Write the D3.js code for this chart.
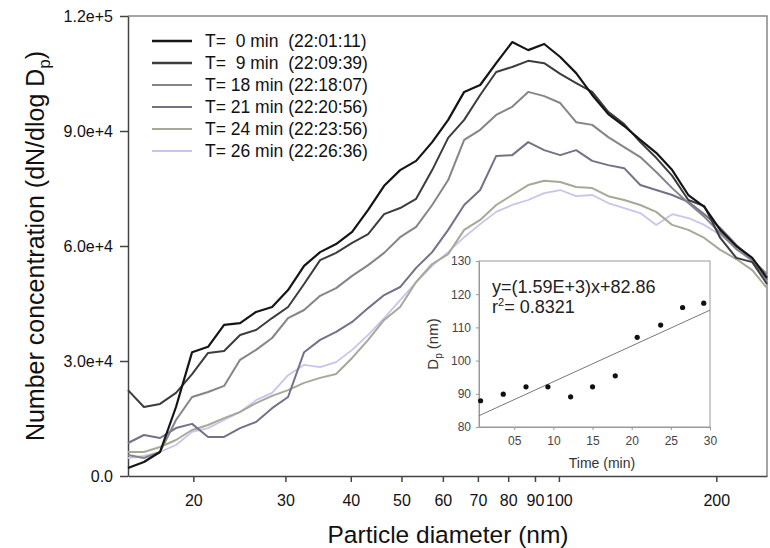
<!DOCTYPE html>
<meta charset="utf-8">
<style>

body {
  margin: 0;
  background: #fff;
}

svg {
  font-family: "Liberation Sans", Arial, sans-serif;
}

.main-axis text {
  font-size: 16px;
  fill: #111;
}

.main-axis path,
.main-axis line {
  stroke: #444;
  stroke-width: 1.5px;
}

.inset-axis text {
  font-size: 12px;
  fill: #444;
}

.inset-axis path,
.inset-axis line {
  stroke: #999;
}

.legend text {
  font-size: 17.5px;
  fill: #111;
  white-space: pre;
}

</style>
<svg id="chart" width="770" height="548"></svg>
<script src="https://cdn.jsdelivr.net/npm/d3@7"></script>
<script>

// particle diameters (nm), one per size bin
const diameters = [15.0, 16.09, 17.27, 18.53, 19.89, 21.34, 22.9, 24.57, 26.36, 28.29,
  30.35, 32.57, 34.95, 37.5, 40.24, 43.18, 46.33, 49.71, 53.34, 57.24,
  61.42, 65.9, 70.71, 75.88, 81.42, 87.36, 93.74, 100.6, 107.9, 115.8,
  124.3, 133.3, 143.1, 153.5, 164.7, 176.8, 189.7, 203.5, 218.4, 234.3, 250];

// dN/dlog Dp, in thousands
const t0 = [2.09, 3.65, 6.26, 18.0, 32.3, 33.7, 39.4, 39.9, 42.8, 44.1,
  48.5, 54.8, 58.4, 60.5, 63.7, 69.4, 75.7, 79.8, 82.2, 87.1,
  92.9, 100.2, 102.0, 107.7, 113.2, 111.1, 112.7, 109.3, 105.1, 99.4,
  94.4, 91.3, 87.7, 84.3, 79.8, 73.3, 70.2, 64.2, 60.0, 56.9, 51.7];

const t9 = [22.4, 18.0, 18.8, 21.7, 26.6, 32.1, 32.6, 36.8, 38.1, 41.2,
  44.1, 50.1, 56.3, 58.2, 60.8, 63.1, 68.3, 69.9, 72.3, 79.8,
  88.2, 92.9, 99.4, 105.4, 106.7, 108.3, 107.7, 104.9, 102.5, 100.2,
  95.0, 91.8, 87.1, 83.0, 78.3, 72.0, 70.4, 62.1, 56.9, 55.8, 50.1];

const t18 = [5.48, 4.70, 6.26, 14.6, 20.6, 21.9, 23.5, 30.3, 32.9, 36.0,
  41.2, 43.3, 47.0, 49.0, 52.2, 55.0, 58.2, 62.3, 65.0, 70.7,
  77.2, 87.7, 90.3, 94.2, 96.3, 100.2, 99.1, 97.3, 92.3, 91.6,
  88.4, 85.8, 83.2, 79.3, 75.1, 71.2, 67.6, 63.4, 59.2, 56.3, 52.7];

const t21 = [8.61, 10.7, 9.91, 12.5, 13.6, 10.2, 10.2, 12.5, 14.1, 17.7,
  20.6, 32.3, 35.5, 37.6, 40.2, 43.8, 47.2, 49.3, 54.3, 58.4,
  64.2, 70.7, 74.6, 83.5, 83.7, 87.1, 85.0, 83.7, 85.0, 82.2,
  81.1, 80.3, 75.9, 74.6, 73.3, 71.5, 68.3, 64.7, 60.3, 56.3, 51.1];

const t24 = [6.26, 6.26, 7.57, 9.39, 12.0, 13.3, 15.1, 16.7, 19.0, 20.9,
  22.4, 24.3, 25.6, 26.6, 30.8, 35.5, 40.7, 44.1, 50.6, 55.3,
  57.9, 64.2, 66.8, 70.7, 73.3, 75.9, 77.0, 76.7, 75.4, 75.1,
  73.0, 72.0, 70.7, 68.9, 65.5, 64.2, 62.1, 59.0, 56.6, 53.7, 49.0];

const t26 = [4.70, 5.22, 6.26, 8.09, 11.5, 12.5, 14.6, 16.7, 19.8, 21.7,
  26.3, 29.0, 28.4, 29.7, 32.9, 36.8, 41.2, 45.9, 50.6, 54.8,
  58.4, 62.3, 65.7, 68.9, 70.7, 72.0, 73.8, 74.6, 73.0, 73.3,
  71.2, 69.9, 68.6, 65.5, 68.3, 67.3, 65.5, 62.9, 59.5, 55.8, 51.9];

const seriesLabels = ["T=  0 min  (22:01:11)", "T=  9 min  (22:09:39)", "T= 18 min (22:18:07)",
  "T= 21 min (22:20:56)", "T= 24 min (22:23:56)", "T= 26 min (22:26:36)"];
const seriesValues = [t0, t9, t18, t21, t24, t26];
const seriesColors = ["#151515", "#3c3c3c", "#84848c", "#727288", "#a6a898", "#c6c6ec"];
const seriesWidths = [2.2, 2, 2, 2, 2, 1.8];

const yTicks = [0, 30000, 60000, 90000, 120000];
const yTickLabels = ["0.0", "3.0e+4", "6.0e+4", "9.0e+4", "1.2e+5"];
const xTicks = [20, 30, 40, 50, 60, 70, 80, 90, 100, 200];

// inset: mode diameter vs time
const insetTime = [0.7, 3.6, 6.5, 9.3, 12.2, 15.0, 17.9, 20.7, 23.7, 26.5, 29.2];
const insetDp = [87.9, 89.9, 92.1, 92.1, 89.1, 92.1, 95.4, 107.0, 110.7, 116.0, 117.3];
const fitTime = [0.5, 30];
const fitDp = [83.4, 115.2];
const insetYTicks = [80, 90, 100, 110, 120, 130];
const insetXTicks = [5, 10, 15, 20, 25, 30];

let svg = d3.select("#chart");

let mLeft = 128, mRight = 767, mTop = 16, mBottom = 476;

let x = d3.scaleLog()
    .domain([15, 250])
    .range([mLeft, mRight]);

let y = d3.scaleLinear()
    .domain([0, 120000])
    .range([mBottom, mTop]);

// frame top and right
svg.append("path")
    .attr("d", `M${mLeft},${mTop}H${mRight}V${mBottom}`)
    .attr("fill", "none")
    .attr("stroke", "#888")
    .attr("stroke-width", 1.5);

svg.append("g")
    .attr("class", "main-axis")
    .attr("transform", `translate(0,${mBottom})`)
    .call(d3.axisBottom(x)
      .tickValues(xTicks)
      .tickFormat(d3.format("d"))
      .tickSize(6)
      .tickSizeOuter(0)
      .tickPadding(13));

svg.append("g")
    .attr("class", "main-axis")
    .attr("transform", `translate(${mLeft},0)`)
    .call(d3.axisLeft(y)
      .tickValues(yTicks)
      .tickFormat((d, i) => yTickLabels[i])
      .tickSize(8)
      .tickSizeOuter(0)
      .tickPadding(7));

let line = d3.line()
    .x(d => x(d[0]))
    .y(d => y(d[1] * 1000));

// draw lightest first so dark curves sit on top
for (let i = seriesValues.length - 1; i >= 0; i--) {
  let pts = diameters.map((d, j) => [d, seriesValues[i][j]]);
  svg.append("path")
      .datum(pts)
      .attr("d", line)
      .attr("fill", "none")
      .attr("stroke", seriesColors[i])
      .attr("stroke-width", seriesWidths[i])
      .attr("stroke-linejoin", "round");
}

// axis titles
svg.append("text")
    .attr("x", 448)
    .attr("y", 543)
    .attr("text-anchor", "middle")
    .style("font-size", "24.5px")
    .attr("fill", "#111")
    .text("Particle diameter (nm)");

let yTitle = svg.append("text")
    .attr("transform", "translate(44,246) rotate(-90)")
    .attr("text-anchor", "middle")
    .style("font-size", "25px")
    .attr("fill", "#111");
yTitle.append("tspan").text("Number concentration (dN/dlog D");
yTitle.append("tspan").attr("dy", 6).style("font-size", "17px").text("p");
yTitle.append("tspan").attr("dy", -6).text(")");

// legend
let legend = svg.append("g").attr("class", "legend");
seriesLabels.forEach((s, i) => {
  let g = legend.append("g").attr("transform", `translate(152,${41 + i * 22})`);
  g.append("line")
      .attr("x1", 0).attr("x2", 40)
      .attr("stroke", seriesColors[i])
      .attr("stroke-width", i < 2 ? 2.6 : 2);
  g.append("text")
      .attr("x", 53)
      .attr("dy", "0.36em")
      .text(s);
});

// inset
let iLeft = 479, iRight = 710, iTop = 261, iBottom = 427;

let ix = d3.scaleLinear()
    .domain([0.5, 30])
    .range([iLeft, iRight]);

let iy = d3.scaleLinear()
    .domain([80, 130])
    .range([iBottom, iTop]);

svg.append("rect")
    .attr("x", iLeft)
    .attr("y", iTop)
    .attr("width", iRight - iLeft)
    .attr("height", iBottom - iTop)
    .attr("fill", "#fff")
    .attr("stroke", "#999");

svg.append("g")
    .attr("class", "inset-axis")
    .attr("transform", `translate(0,${iBottom})`)
    .call(d3.axisBottom(ix)
      .tickValues(insetXTicks)
      .tickFormat(d3.format("02d"))
      .tickSize(3)
      .tickSizeOuter(0)
      .tickPadding(6));

svg.append("g")
    .attr("class", "inset-axis")
    .attr("transform", `translate(${iLeft},0)`)
    .call(d3.axisLeft(iy)
      .tickValues(insetYTicks)
      .tickSize(3)
      .tickSizeOuter(0)
      .tickPadding(5));

svg.append("line")
    .attr("x1", ix(fitTime[0])).attr("y1", iy(fitDp[0]))
    .attr("x2", ix(fitTime[1])).attr("y2", iy(fitDp[1]))
    .attr("stroke", "#777")
    .attr("stroke-width", 1);

svg.append("g")
  .selectAll("circle")
    .data(insetTime)
  .enter().append("circle")
    .attr("cx", d => ix(d))
    .attr("cy", (d, i) => iy(insetDp[i]))
    .attr("r", 2.6)
    .attr("fill", "#111");

svg.append("text")
    .attr("x", 492)
    .attr("y", 293)
    .style("font-size", "18px")
    .attr("fill", "#222")
    .text("y=(1.59E+3)x+82.86");

let r2 = svg.append("text")
    .attr("x", 492)
    .attr("y", 313)
    .style("font-size", "18px")
    .attr("fill", "#222");
r2.append("tspan").text("r");
r2.append("tspan").attr("dy", -7).style("font-size", "11px").text("2");
r2.append("tspan").attr("dy", 7).text("= 0.8321");

svg.append("text")
    .attr("x", 602)
    .attr("y", 468)
    .attr("text-anchor", "middle")
    .style("font-size", "14px")
    .attr("fill", "#333")
    .text("Time (min)");

let dpTitle = svg.append("text")
    .attr("transform", "translate(438,344) rotate(-90)")
    .attr("text-anchor", "middle")
    .style("font-size", "15px")
    .attr("fill", "#333");
dpTitle.append("tspan").text("D");
dpTitle.append("tspan").attr("dy", 4).style("font-size", "10px").text("p");
dpTitle.append("tspan").attr("dy", -4).text(" (nm)");

</script>
